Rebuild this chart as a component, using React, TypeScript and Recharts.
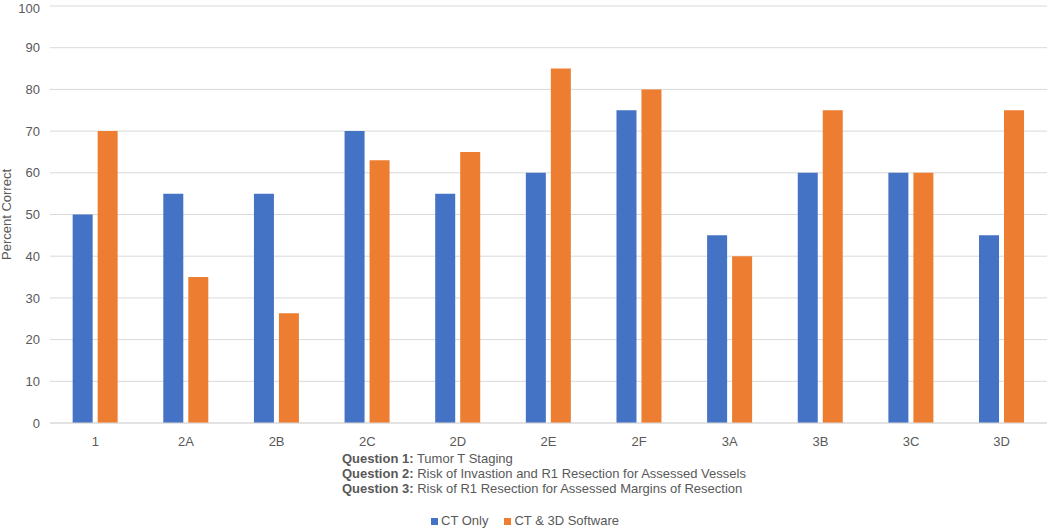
import React from 'react';
import { BarChart, Bar, XAxis, YAxis, CartesianGrid, Legend } from 'recharts';

const categories = ['1', '2A', '2B', '2C', '2D', '2E', '2F', '3A', '3B', '3C', '3D'];
const ctOnly = [50, 55, 55, 70, 55, 60, 75, 45, 60, 60, 45];
const ct3d = [70, 35, 26.3, 63, 65, 85, 80, 40, 75, 60, 75];
const yTicks = [0, 10, 20, 30, 40, 50, 60, 70, 80, 90, 100];
const seriesNames = ['CT Only', 'CT & 3D Software'];
const seriesColors = ['#4472C4', '#ED7D31'];
const questionNotes = [
  ['Question 1:', 'Tumor T Staging'],
  ['Question 2:', 'Risk of Invastion and R1 Resection for Assessed Vessels'],
  ['Question 3:', 'Risk of R1 Resection for Assessed Margins of Resection'],
];

const data = categories.map((c, i) => ({ name: c, ctOnly: ctOnly[i], ct3d: ct3d[i] }));

const FONT = '"Liberation Sans", Arial, sans-serif';
const TEXT = '#595959';

const LegendContent = () => (
  <div style={{ height: 85, width: 1050, fontFamily: FONT, fontSize: 13, color: TEXT, position: 'relative' }}>
    <div style={{ position: 'absolute', left: 342, top: 6, lineHeight: '15px', whiteSpace: 'nowrap' }}>
      {questionNotes.map((q, i) => (
        <div key={i}>
          <b>{q[0]}</b> {q[1]}
        </div>
      ))}
    </div>
    <div style={{ position: 'absolute', left: 0, width: 1050, top: 68, display: 'flex', justifyContent: 'center', lineHeight: '16px' }}>
      {seriesNames.map((n, i) => (
        <div key={n} style={{ display: 'flex', alignItems: 'center', marginRight: i === 0 ? 16 : 0 }}>
          <span style={{ display: 'inline-block', width: 7, height: 7, background: seriesColors[i], marginRight: 3 }} />
          <span>{n}</span>
        </div>
      ))}
    </div>
  </div>
);

const YLabel = (props: any) => {
  const vb = props.viewBox || {};
  const x = vb.x + 8;
  const y = vb.y + vb.height / 2;
  return (
    <text x={x} y={y} transform={`rotate(-90, ${x}, ${y})`} textAnchor="middle" dominantBaseline="middle"
      fontFamily={FONT} fontSize={13} fill={TEXT}>
      Percent Correct
    </text>
  );
};

export default function App() {
  return (
    <div style={{ position: 'absolute', left: 0, top: 0 }}>
      <BarChart
        width={1050}
        height={530}
        data={data}
        margin={{ top: 6, right: 3, bottom: 0, left: 0 }}
        barCategoryGap="25%"
        barGap={5}
      >
        <CartesianGrid vertical={false} stroke="#d9d9d9" />
        <XAxis
          dataKey="name"
          height={22}
          axisLine={{ stroke: '#d9d9d9' }}
          tickLine={false}
          tick={{ fontFamily: FONT, fontSize: 13, fill: TEXT }}
          tickMargin={8}
        />
        <YAxis
          width={50}
          domain={[0, 100]}
          ticks={yTicks}
          axisLine={false}
          tickLine={false}
          tickMargin={4}
          tick={{ fontFamily: FONT, fontSize: 13, fill: TEXT }}
          label={{ content: YLabel }}
        />
        <Legend verticalAlign="bottom" content={LegendContent} wrapperStyle={{ left: 0, width: 1050, height: 85 }} />
        <Bar dataKey="ctOnly" name={seriesNames[0]} fill={seriesColors[0]} isAnimationActive={false} />
        <Bar dataKey="ct3d" name={seriesNames[1]} fill={seriesColors[1]} isAnimationActive={false} />
      </BarChart>
    </div>
  );
}
